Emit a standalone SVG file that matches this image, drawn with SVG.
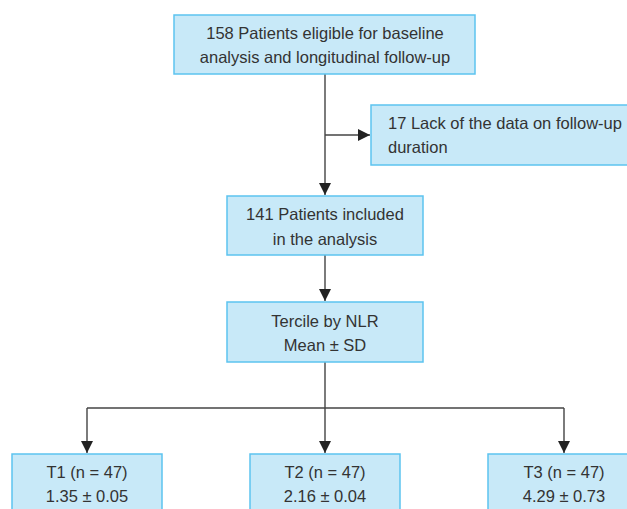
<svg xmlns="http://www.w3.org/2000/svg" width="627" height="509" viewBox="0 0 627 509">
<style>
.box{fill:#c8e9f8;stroke:#5cc3ef;stroke-width:1.5}
.t{font-family:"Liberation Sans",Arial,sans-serif;font-size:16.5px;fill:#333}
.c{text-anchor:middle}
.ln{stroke:#444;stroke-width:1.4;fill:none}
</style>
<defs>
<marker id="ah" viewBox="0 0 10 10" refX="10" refY="5" markerWidth="12" markerHeight="12" markerUnits="userSpaceOnUse" orient="auto">
<path d="M0,0 L10,5 L0,10 z" fill="#222"/>
</marker>
</defs>
<rect width="627" height="509" fill="#fff"/>
<g id="connectors">
<line class="ln" x1="325" y1="74" x2="325" y2="195" marker-end="url(#ah)"/>
<line class="ln" x1="325" y1="135" x2="370" y2="135" marker-end="url(#ah)"/>
<line class="ln" x1="325" y1="255" x2="325" y2="301" marker-end="url(#ah)"/>
<line class="ln" x1="325" y1="362" x2="325" y2="408"/>
<line class="ln" x1="87" y1="408" x2="564" y2="408"/>
<line class="ln" x1="87" y1="408" x2="87" y2="453" marker-end="url(#ah)"/>
<line class="ln" x1="325" y1="408" x2="325" y2="453" marker-end="url(#ah)"/>
<line class="ln" x1="564" y1="408" x2="564" y2="453" marker-end="url(#ah)"/>
</g>
<g id="n1">
<rect class="box" x="174" y="15" width="301" height="59"/>
<text class="t c" x="325" y="39">158 Patients eligible for baseline</text>
<text class="t c" x="325" y="63">analysis and longitudinal follow-up</text>
</g>
<g id="n2">
<rect class="box" x="371" y="105" width="270" height="60"/>
<text class="t" x="388" y="129">17 Lack of the data on follow-up</text>
<text class="t" x="388" y="153">duration</text>
</g>
<g id="n3">
<rect class="box" x="227" y="196" width="196" height="59"/>
<text class="t c" x="325" y="220">141 Patients included</text>
<text class="t c" x="325" y="245">in the analysis</text>
</g>
<g id="n4">
<rect class="box" x="227" y="302" width="196" height="60"/>
<text class="t c" x="325" y="327">Tercile by NLR</text>
<text class="t c" x="325" y="351">Mean ± SD</text>
</g>
<g id="t1">
<rect class="box" x="12" y="454" width="150" height="70"/>
<text class="t c" x="87" y="478">T1 (n = 47)</text>
<text class="t c" x="87" y="502">1.35 ± 0.05</text>
</g>
<g id="t2">
<rect class="box" x="250" y="454" width="150" height="70"/>
<text class="t c" x="325" y="478">T2 (n = 47)</text>
<text class="t c" x="325" y="502">2.16 ± 0.04</text>
</g>
<g id="t3">
<rect class="box" x="488" y="454" width="150" height="70"/>
<text class="t c" x="564" y="478">T3 (n = 47)</text>
<text class="t c" x="564" y="502">4.29 ± 0.73</text>
</g>
</svg>
